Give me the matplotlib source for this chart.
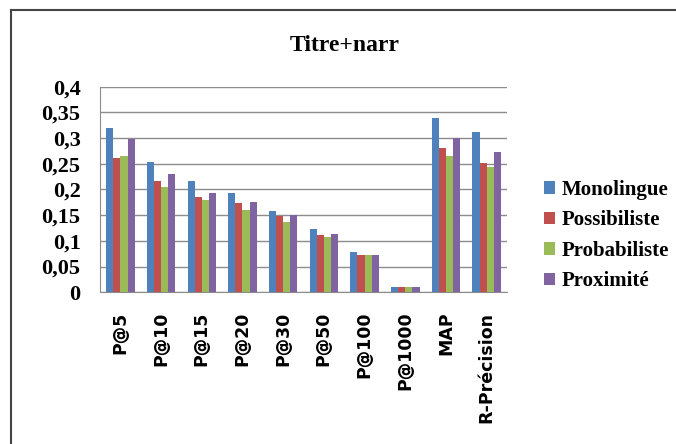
import matplotlib
matplotlib.use('Agg')
import matplotlib.pyplot as plt
from matplotlib.lines import Line2D
import numpy as np

categories = ['P@5', 'P@10', 'P@15', 'P@20', 'P@30', 'P@50', 'P@100', 'P@1000', 'MAP', 'R-Précision']
series = ['Monolingue', 'Possibiliste', 'Probabiliste', 'Proximité']
monolingue = [0.320, 0.254, 0.216, 0.193, 0.158, 0.124, 0.079, 0.010, 0.339, 0.311]
possibiliste = [0.262, 0.216, 0.185, 0.173, 0.149, 0.111, 0.073, 0.010, 0.280, 0.251]
probabiliste = [0.265, 0.204, 0.180, 0.160, 0.137, 0.108, 0.073, 0.010, 0.265, 0.244]
proximite = [0.299, 0.231, 0.193, 0.175, 0.150, 0.113, 0.073, 0.010, 0.300, 0.272]
yticks = [0, 0.05, 0.1, 0.15, 0.2, 0.25, 0.3, 0.35, 0.4]
ytick_labels = ['0', '0,05', '0,1', '0,15', '0,2', '0,25', '0,3', '0,35', '0,4']

colors = ['#4F81BD', '#C0504D', '#9BBB59', '#8064A2']
values = [monolingue, possibiliste, probabiliste, proximite]

fig = plt.figure(figsize=(6.76, 4.44), dpi=100)
ax = fig.add_axes([0.148, 0.3417, 0.602, 0.463])

# outer chart frame (only left and top edges visible in the crop)
fig.add_artist(Line2D([11 / 676, 11 / 676], [0, 1 - 10 / 444], color='#444444', lw=1.5))
fig.add_artist(Line2D([11 / 676, 1], [1 - 10 / 444, 1 - 10 / 444], color='#444444', lw=1.5))

x = np.arange(len(categories))
w = 0.175
for i, (vals, col, name) in enumerate(zip(values, colors, series)):
    ax.bar(x + (i - 1.5) * w, vals, width=w, color=col, label=name, zorder=3)

ax.set_xlim(-0.5, len(categories) - 0.5)
ax.set_ylim(0, 0.4)
ax.set_yticks(yticks)
ax.set_yticklabels(ytick_labels, fontfamily='Liberation Serif', fontweight='bold', fontsize=16)
ax.set_xticks(x)
ax.set_xticklabels(categories, rotation=90, fontfamily='DejaVu Sans', fontweight='bold', fontsize=12.5)
ax.tick_params(length=0)
ax.tick_params(axis='y', pad=14)
ax.tick_params(axis='x', pad=14)
ax.grid(axis='y', color='#8c8c8c', lw=1, zorder=0)
for s in ['top', 'right']:
    ax.spines[s].set_visible(False)
for s in ['left', 'bottom']:
    ax.spines[s].set_color('#8c8c8c')

fig.text(0.51, 0.898, 'Titre+narr', ha='center', va='center',
         fontfamily='Liberation Serif', fontweight='bold', fontsize=17)

leg = ax.legend(loc='center left', bbox_to_anchor=(1.09, 0.276), frameon=False,
                prop={'family': 'Liberation Serif', 'weight': 'bold', 'size': 15},
                handlelength=0.55, handleheight=0.55, handletextpad=0.3, labelspacing=0.5,
                borderpad=0, borderaxespad=0)

fig.savefig('out.png', dpi=100)
